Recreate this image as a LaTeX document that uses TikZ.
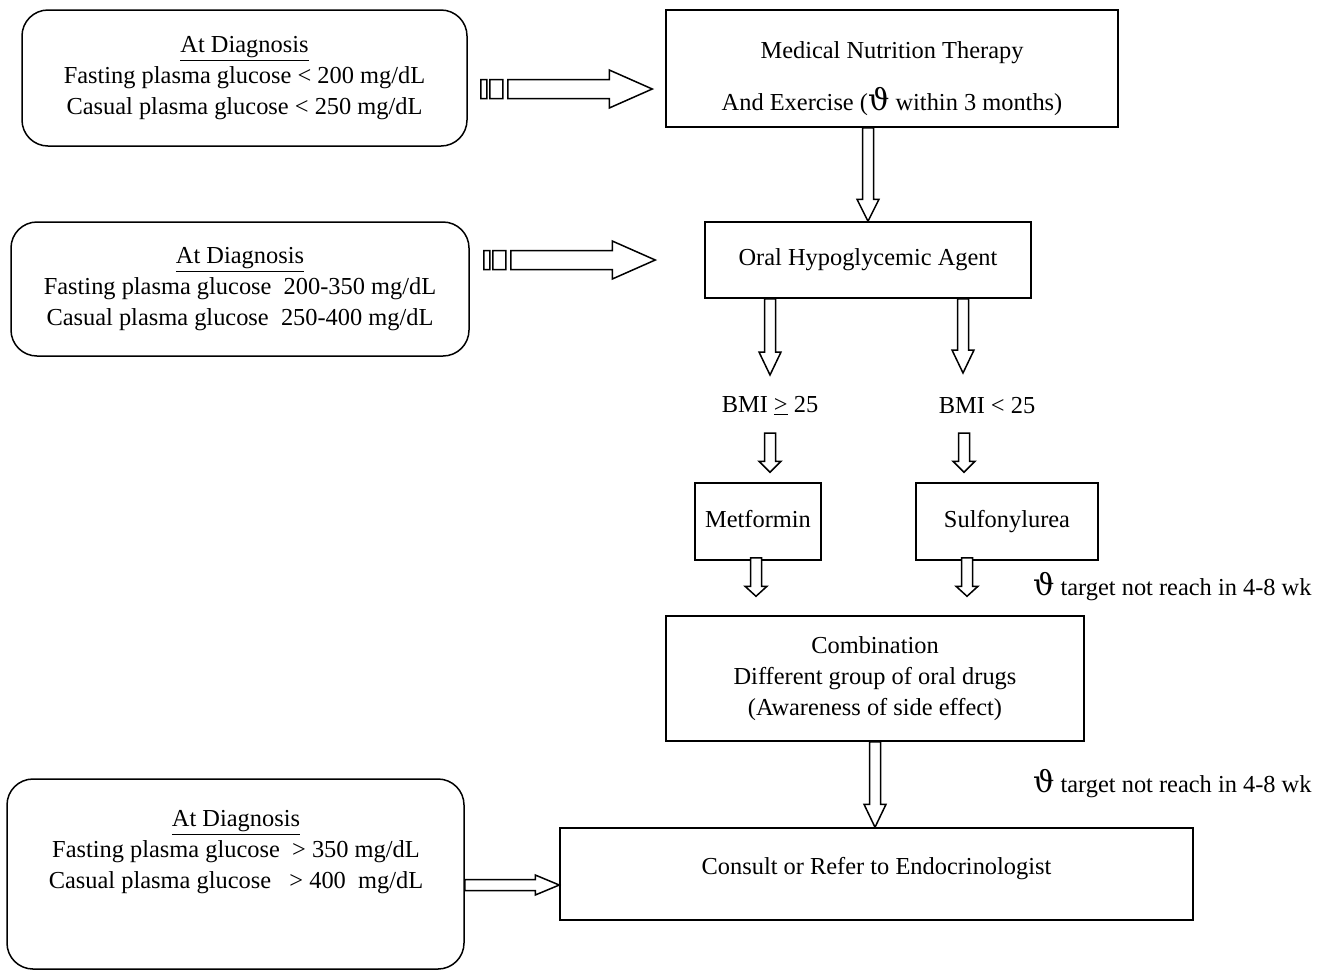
\documentclass[tikz,border=0pt]{standalone}
\usepackage{fontspec}
\setmainfont{Liberation Serif}
\newfontfamily\thetafont{DejaVu Serif}
\usetikzlibrary{calc}

\newcommand{\thetasym}{{\thetafont\fontsize{15}{15}\selectfont ϑ}}
% hollow block arrow pointing down
\newcommand{\downblock}[3][11pt]{%
  \draw[blockline] let \p1=#2, \p2=#3 in
    (\x1-2.75pt,\y1) -- (\x1-2.75pt,\y2+#1) -- (\x1-5.5pt,\y2+#1) -- (\x1,\y2)
    -- (\x1+5.5pt,\y2+#1) -- (\x1+2.75pt,\y2+#1) -- (\x1+2.75pt,\y1) -- cycle;}
% hollow block arrow pointing right, thin
\newcommand{\rightblock}[2]{%
  \draw[blockline] let \p1=#1, \p2=#2 in
    (\x1,\y1-2.75pt) -- (\x2-12pt,\y1-2.75pt) -- (\x2-12pt,\y1-5pt) -- (\x2,\y1)
    -- (\x2-12pt,\y1+5pt) -- (\x2-12pt,\y1+2.75pt) -- (\x1,\y1+2.75pt) -- cycle;}
% striped block arrow pointing right
\newcommand{\stripedarrow}[2]{%
  \draw[blockline] let \p1=#1, \p2=#2 in
    (\x1,\y1-4.75pt) rectangle (\x1+3pt,\y1+4.75pt)
    (\x1+4.5pt,\y1-4.75pt) rectangle (\x1+11pt,\y1+4.75pt)
    (\x1+13.5pt,\y1-4.75pt) -- (\x2-21.5pt,\y1-4.75pt) -- (\x2-21.5pt,\y1-9.5pt) -- (\x2,\y1)
    -- (\x2-21.5pt,\y1+9.5pt) -- (\x2-21.5pt,\y1+4.75pt) -- (\x1+13.5pt,\y1+4.75pt) -- cycle;}

\begin{document}
\begin{tikzpicture}[x=0.5pt, y=-0.5pt,
    every node/.style = {font=\fontsize{12.2}{15.5}\selectfont, align=center},
    plainbox/.style = {draw, line width=0.75pt, inner sep=0pt},
    roundbox/.style = {plainbox, rounded corners=13pt},
    onebox/.style = {plainbox, text height=1.5ex, text depth=0.25ex},
    blockline/.style = {draw, line width=0.75pt, fill=white, line join=miter}]
  \useasboundingbox (0,0) rectangle (1325,970);

  % left-hand boxes
  \node[roundbox, minimum width=222.5pt, minimum height=68pt] (diag1) at (244.5,78)
    {\underline{At Diagnosis}\\ Fasting plasma glucose < 200 mg/dL\\ Casual plasma glucose < 250 mg/dL};
  \node[roundbox, minimum width=229pt, minimum height=67pt] (diag2) at (240,289)
    {\underline{At Diagnosis}\\ Fasting plasma glucose\ \ 200-350 mg/dL\\ Casual plasma glucose\ \ 250-400 mg/dL};
  \node[roundbox, minimum width=228.5pt, minimum height=95pt] (diag3) at (235.5,874) {};
  \node (diag3txt) at (236,852)
    {\underline{At Diagnosis}\\ Fasting plasma glucose\ \ > 350 mg/dL\\ Casual plasma glucose\ \ \ > 400\ \ mg/dL};

  % treatment steps
  \node[plainbox, minimum width=226pt, minimum height=58.5pt, font=\fontsize{12.2}{26}\selectfont] (mnt) at (892,68.5)
    {\rule{0pt}{18.5pt}Medical Nutrition Therapy\\ And Exercise (\thetasym\ within 3 months)};
  \node[onebox, minimum width=163pt, minimum height=38pt] (oha) at (868,260) {Oral Hypoglycemic Agent};
  \node (bmiA) at (770,406) {BMI \underline{>} 25};
  \node (bmiB) at (987,406) {BMI < 25};
  \node[onebox, minimum width=63pt, minimum height=38.5pt] (metf) at (758,521.5) {Metformin};
  \node[onebox, minimum width=91pt, minimum height=38.5pt] (sulf) at (1007,521.5) {Sulfonylurea};
  \node[plainbox, minimum width=209pt, minimum height=62.5pt] (comb) at (875,678.5)
    {Combination\\ Different group of oral drugs\\ (Awareness of side effect)};
  \node[plainbox, minimum width=316.5pt, minimum height=46pt] (consult) at (876.5,874)
    {\raisebox{8pt}{Consult or Refer to Endocrinologist}};
  \node[anchor=west] (note1) at (1026,586) {\thetasym\ target not reach in 4-8 wk};
  \node[anchor=west] (note2) at (1026,783) {\thetasym\ target not reach in 4-8 wk};

  % connectors
  \stripedarrow{([xshift=6.5pt,yshift=-5.5pt]diag1.east)}{([xshift=-6.5pt,yshift=-10.25pt]mnt.west)}
  \stripedarrow{($(diag2.east |- oha.west)+(14,0)$)}{($(oha.west)+(-49,0)$)}
  \rightblock{($(diag3.east)+(0,11)$)}{($(consult.west)+(0,11)$)}
  \downblock{(oha.north |- mnt.south)}{(oha.north)}
  \downblock[11.5pt]{(bmiA |- oha.south)}{($(bmiA.center)+(0,-31)$)}
  \downblock[11.5pt]{($(oha.south -| bmiB)+(-24,0)$)}{($(bmiB.center)+(-24,-33)$)}
  \downblock[5.5pt]{($(bmiA.center)+(0,27)$)}{($(metf.north -| bmiA)+(0,-10)$)}
  \downblock[5.5pt]{($(bmiB.center)+(-23,27)$)}{($(metf.north -| bmiB)+(-23,-10)$)}
  \downblock[5pt]{($(metf.south)+(-2,-3)$)}{($(comb.north -| metf.south)+(-2,-19)$)}
  \downblock[5pt]{($(sulf.south)+(-40,-3)$)}{($(comb.north -| sulf.south)+(-40,-19)$)}
  \downblock[11.5pt]{(comb.south)}{(comb.south |- consult.north)}
\end{tikzpicture}
\end{document}
